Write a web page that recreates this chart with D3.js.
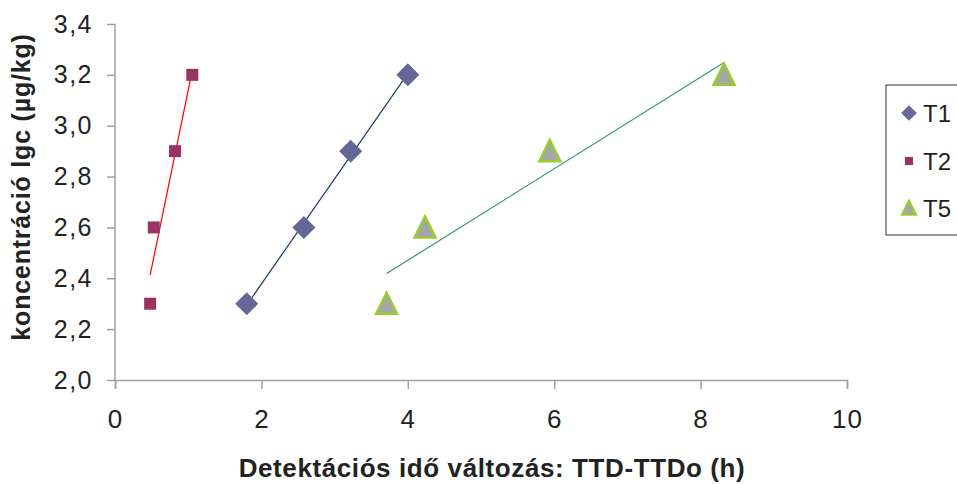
<!DOCTYPE html>
<html><head><meta charset="utf-8">
<script src="https://cdn.jsdelivr.net/npm/d3@7"></script>
<style>body{margin:0;background:#fff}svg{display:block}text{font-family:"Liberation Sans",Arial,sans-serif}</style>
</head><body>
<svg id="c" width="957" height="484"></svg>
<script>
const yValues = [2.3, 2.6, 2.9, 3.2];
const t1X = [1.8, 2.58, 3.22, 4.0];
const t2X = [0.48, 0.53, 0.82, 1.056];
const t5X = [3.71, 4.235, 5.94, 8.32];
const seriesNames = ["T1", "T2", "T5"];
const xTicks = [0, 2, 4, 6, 8, 10];
const yTicks = [2.0, 2.2, 2.4, 2.6, 2.8, 3.0, 3.2, 3.4];
const xTitle = "Detektációs idő változás: TTD-TTDo (h)";
const yTitle = "koncentráció lgc (µg/kg)";

const series = [
  {name: "T1", xs: t1X, shape: "diamond", fill: "#666699", stroke: "none", line: "#1f3864"},
  {name: "T2", xs: t2X, shape: "square", fill: "#993366", stroke: "none", line: "#ff0000"},
  {name: "T5", xs: t5X, shape: "triangle", fill: "#a6a6a6", stroke: "#99cc33", line: "#339966"}
];

const svg = d3.select("#c");
const L = 115, R = 847, T = 24, B = 380;
const x = d3.scaleLinear().domain([0, 10]).range([L, R]);
const y = d3.scaleLinear().domain([2.0, 3.4]).range([B, T]);
const fmt = d => d3.format(".1f")(d).replace(".", ",");

// axes
const axisColor = "#a0a0a0";
const gx = svg.append("g").attr("transform", `translate(0,${B})`)
  .call(d3.axisBottom(x).tickValues(xTicks).tickSize(9).tickPadding(21).tickFormat(d3.format("d")));
const gy = svg.append("g").attr("transform", `translate(${L},0)`)
  .call(d3.axisLeft(y).tickValues(yTicks).tickSize(8).tickPadding(14).tickFormat(fmt));
[gx, gy].forEach(g => {
  g.select(".domain").attr("stroke", axisColor).attr("stroke-width", 1.5);
  g.selectAll(".tick line").attr("stroke", axisColor).attr("stroke-width", 1.5);
  g.selectAll(".tick text").attr("fill", "#222");
});
gx.selectAll(".tick text").attr("font-size", 26).attr("letter-spacing", 1);
gy.selectAll(".tick text").attr("font-size", 25).attr("letter-spacing", 1.5);
gy.select(".domain").attr("d", `M0,${B}V${T}`);

// trendlines (least squares over each series)
function fit(xs, ys) {
  const mx = d3.mean(xs), my = d3.mean(ys);
  let sxy = 0, sxx = 0;
  xs.forEach((v, i) => { sxy += (v - mx) * (ys[i] - my); sxx += (v - mx) * (v - mx); });
  const b = sxy / sxx, a = my - b * mx;
  return v => a + b * v;
}
series.forEach(s => {
  const f = fit(s.xs, yValues);
  const x0 = d3.min(s.xs), x1 = d3.max(s.xs);
  svg.append("line")
    .attr("x1", x(x0)).attr("y1", y(f(x0)))
    .attr("x2", x(x1)).attr("y2", y(f(x1)))
    .attr("stroke", s.line).attr("stroke-width", 1.2);
});

function marker(g, shape, cx, cy, k, s) {
  let p;
  if (shape === "diamond") {
    const r = 11.5 * k;
    p = g.append("path").attr("d", `M${cx},${cy - r}L${cx + r},${cy}L${cx},${cy + r}L${cx - r},${cy}Z`);
  } else if (shape === "square") {
    const r = 6 * k;
    p = g.append("rect").attr("x", cx - r).attr("y", cy - r).attr("width", 2 * r).attr("height", 2 * r);
  } else {
    const w = 10.5 * k, h = 20 * k;
    p = g.append("path").attr("d", `M${cx},${cy - h * 0.55}L${cx + w},${cy + h * 0.5}L${cx - w},${cy + h * 0.5}Z`);
  }
  p.attr("fill", s.fill).attr("stroke", s.stroke).attr("stroke-width", s.stroke === "none" ? 0 : 2.5 * Math.max(k, 0.8))
    .attr("stroke-linejoin", "miter");
}

// T2 drawn first, then T1, then T5
[series[1], series[0], series[2]].forEach(s => {
  const g = svg.append("g");
  s.xs.forEach((v, i) => marker(g, s.shape, x(v), y(yValues[i]), 1, s));
});

// axis titles
svg.append("text").attr("x", 492).attr("y", 477).attr("text-anchor", "middle")
  .attr("font-size", 26).attr("font-weight", "bold").attr("letter-spacing", 0.6).attr("fill", "#222").text(xTitle);
svg.append("text").attr("transform", "translate(30,187) rotate(-90)").attr("text-anchor", "middle")
  .attr("font-size", 25).attr("font-weight", "bold").attr("letter-spacing", 0.8).attr("fill", "#222").text(yTitle);

// legend
const lg = svg.append("g");
lg.append("rect").attr("x", 886).attr("y", 85).attr("width", 90).attr("height", 150)
  .attr("fill", "#fff").attr("stroke", "#333").attr("stroke-width", 1);
const legY = [113, 161, 208];
series.forEach((s, i) => {
  marker(lg, s.shape, 909, legY[i], 0.68, s);
  lg.append("text").attr("x", 923).attr("y", legY[i]).attr("dy", "0.36em")
    .attr("font-size", 24).attr("fill", "#222").text(seriesNames[i]);
});
</script>
</body></html>
